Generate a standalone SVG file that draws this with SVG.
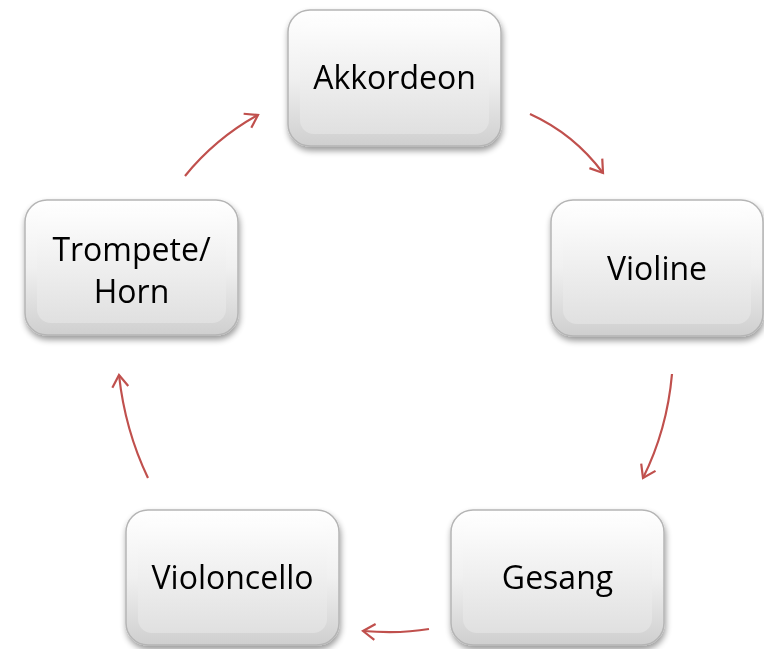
<svg xmlns="http://www.w3.org/2000/svg" width="764" height="649" viewBox="0 0 764 649">
<defs>
<linearGradient id="g" x1="0" y1="0" x2="0" y2="1">
<stop offset="0" stop-color="#ffffff"/>
<stop offset="0.5" stop-color="#f0f0f0"/>
<stop offset="1" stop-color="#cfcfcf"/>
</linearGradient>
<linearGradient id="gi" x1="0" y1="0" x2="0" y2="1">
<stop offset="0" stop-color="#fdfdfd"/>
<stop offset="1" stop-color="#e0e0e0"/>
</linearGradient>
<filter id="sh" x="-10%" y="-10%" width="125%" height="130%">
<feGaussianBlur in="SourceAlpha" stdDeviation="3"/>
<feOffset dx="1" dy="4" result="b"/>
<feComponentTransfer><feFuncA type="linear" slope="0.4"/></feComponentTransfer>
<feMerge><feMergeNode/><feMergeNode in="SourceGraphic"/></feMerge>
</filter>
<marker id="ah" markerWidth="10" markerHeight="10" refX="8" refY="5" orient="auto" markerUnits="userSpaceOnUse" viewBox="0 0 10 10" overflow="visible">
<path d="M-4,-3 L8,5 L-4,13" fill="none" stroke="#c0504d" stroke-width="2.2"/>
</marker>
<style>
.box{fill:url(#g);stroke:#b5b5b5;stroke-width:1.5}
.inner{fill:url(#gi);stroke:none}
.lbl{font-family:"Open Sans","Liberation Sans",sans-serif;font-size:32px;fill:#000;text-anchor:middle}
.arr{fill:none;stroke:#c0504d;stroke-width:2.2;marker-end:url(#ah)}
</style>
</defs>
<g id="connectors">
<path class="arr" d="M530,114 Q574,134 603,173"/>
<path class="arr" d="M672,374 Q667,430 643,478"/>
<path class="arr" d="M429,629 Q400,634 363,631"/>
<path class="arr" d="M148,478 Q125,430 119,375"/>
<path class="arr" d="M185,176 Q216,138 258,115"/>
</g>
<g id="akkordeon" filter="url(#sh)">
<rect class="box" x="288" y="10" width="213" height="136" rx="22"/>
<rect class="inner" x="300" y="22" width="189" height="112" rx="14"/>
<text class="lbl" x="394.5" y="89">Akkordeon</text>
</g>
<g id="violine" filter="url(#sh)">
<rect class="box" x="551" y="200" width="212" height="136" rx="22"/>
<rect class="inner" x="563" y="212" width="188" height="112" rx="14"/>
<text class="lbl" x="657" y="280">Violine</text>
</g>
<g id="gesang" filter="url(#sh)">
<rect class="box" x="451" y="510" width="213" height="135" rx="22"/>
<rect class="inner" x="463" y="522" width="189" height="111" rx="14"/>
<text class="lbl" x="557.5" y="589">Gesang</text>
</g>
<g id="violoncello" filter="url(#sh)">
<rect class="box" x="126" y="510" width="213" height="135" rx="22"/>
<rect class="inner" x="138" y="522" width="189" height="111" rx="14"/>
<text class="lbl" x="232.5" y="589">Violoncello</text>
</g>
<g id="trompete" filter="url(#sh)">
<rect class="box" x="25" y="200" width="213" height="135" rx="22"/>
<rect class="inner" x="37" y="212" width="189" height="111" rx="14"/>
<text class="lbl" x="131.5" y="261">Trompete/</text>
<text class="lbl" x="131.5" y="303">Horn</text>
</g>
</svg>
